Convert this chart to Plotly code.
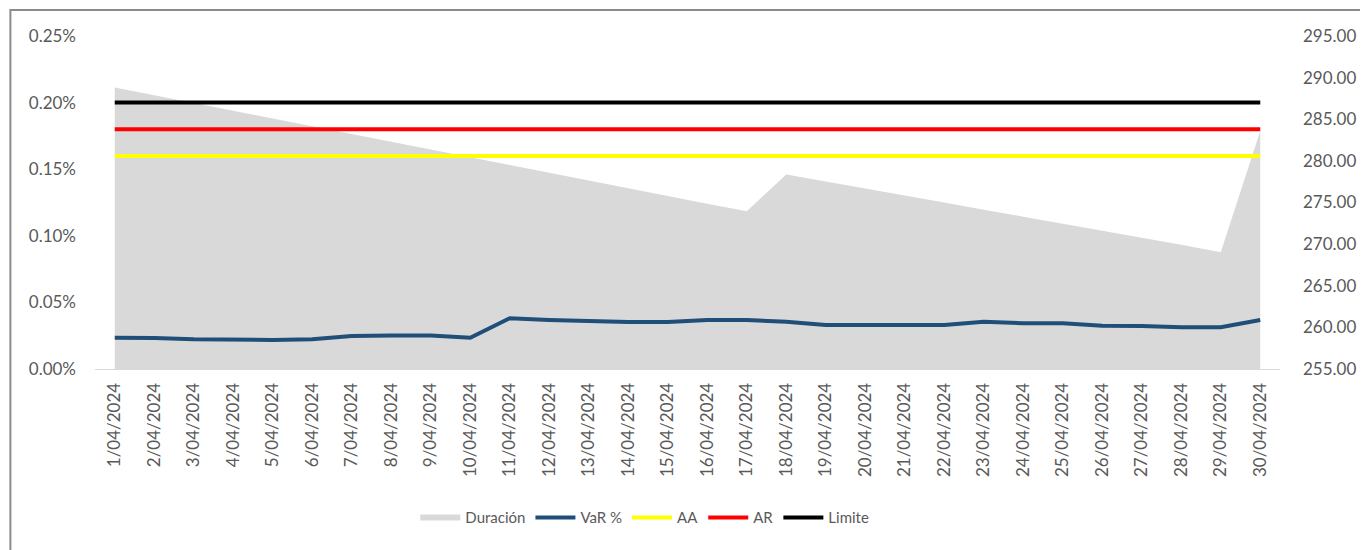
import plotly.graph_objects as go

# Fechas del eje X
fechas = [f"{d}/04/2024" for d in range(1, 31)]

# Duración (eje derecho)
duracion = [288.82, 287.89, 286.95, 286.02, 285.10, 284.17, 283.23, 282.30, 281.37, 280.43,
            279.51, 278.58, 277.64, 276.71, 275.78, 274.86, 273.95, 278.37, 277.53, 276.69,
            275.83, 274.99, 274.14, 273.30, 272.45, 271.60, 270.76, 269.92, 269.01, 283.59]

# VaR % (eje izquierdo)
var_pct = [0.000235, 0.000233, 0.000223, 0.000218, 0.000218, 0.000223, 0.000248, 0.000252, 0.000252, 0.000235,
           0.000381, 0.000368, 0.000360, 0.000353, 0.000353, 0.000368, 0.000368, 0.000355, 0.000330, 0.000327,
           0.000330, 0.000330, 0.000355, 0.000343, 0.000343, 0.000325, 0.000323, 0.000313, 0.000313, 0.000368]

# Alertas y límite
aa = [0.0016] * 30
ar = [0.0018] * 30
limite = [0.0020] * 30

FONT = "Lato"
GRIS = "#595959"

fig = go.Figure()

# área de duración en el eje principal (lado derecho) para que quede debajo de las líneas
fig.add_trace(go.Scatter(
    x=fechas, y=duracion, name="Duración", mode="none",
    fill="tozeroy", fillcolor="#d9d9d9", yaxis="y"
))

for nombre, valores, color in [("VaR %", var_pct, "#1f4e79"),
                               ("AA", aa, "#ffff00"),
                               ("AR", ar, "#ff0000"),
                               ("Limite", limite, "#000000")]:
    fig.add_trace(go.Scatter(
        x=fechas, y=valores, name=nombre, mode="lines",
        line=dict(color=color, width=4), yaxis="y2"
    ))

# la página tiene 8px de margen en el body, se descuentan aquí
fig.update_layout(
    width=1360, height=542,
    margin=dict(l=87, r=83, t=28, b=181),
    paper_bgcolor="white", plot_bgcolor="white",
    font=dict(family=FONT, size=14, color=GRIS),
    showlegend=True,
    legend=dict(orientation="h", x=0.464, xanchor="center", y=-0.447, yanchor="middle",
                font=dict(size=15, color=GRIS), itemwidth=40, tracegroupgap=0),
    xaxis=dict(
        type="category", range=[-0.5, 29.5], tickangle=-90,
        showgrid=False, showline=True, linecolor="#d9d9d9", linewidth=1,
        ticks="", ticklabelstandoff=6, tickfont=dict(size=17, color=GRIS)
    ),
    yaxis=dict(
        side="right", range=[255, 295], dtick=5, tickformat=".2f",
        showgrid=False, zeroline=False, showline=False, ticks="",
        ticklabelstandoff=22, tickfont=dict(size=17, color=GRIS)
    ),
    yaxis2=dict(
        overlaying="y", side="left", range=[0, 0.0025], dtick=0.0005, tickformat=".2%",
        showgrid=False, zeroline=False, showline=False, ticks="",
        ticklabelstandoff=18, tickfont=dict(size=17, color=GRIS)
    ),
    shapes=[
        # marco del gráfico
        dict(type="rect", xref="paper", yref="paper",
             x0=-0.0714, x1=1.2, y0=-1.0, y1=1.078,
             line=dict(color="#8c8c8c", width=2), layer="below")
    ]
)

fig.write_html("out.html")
